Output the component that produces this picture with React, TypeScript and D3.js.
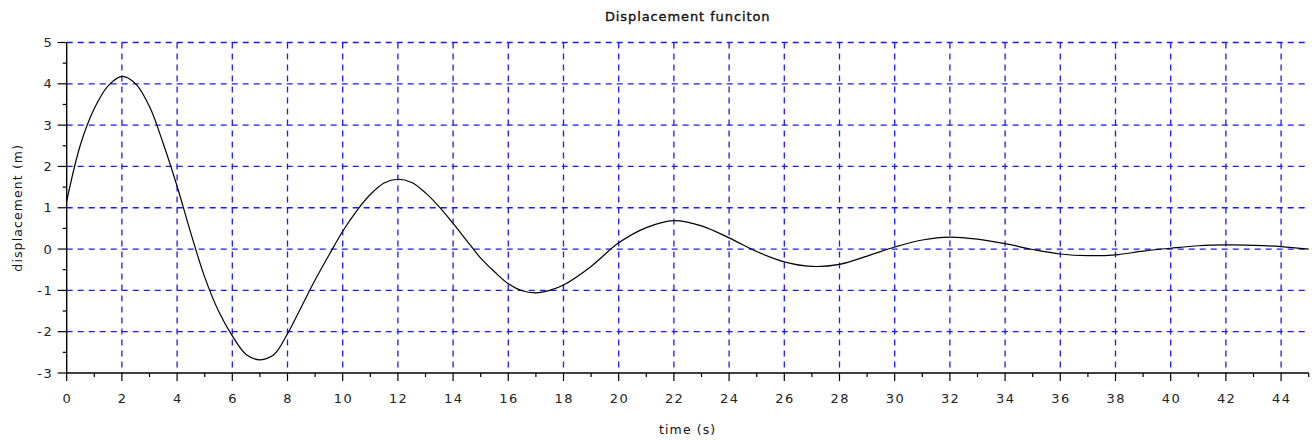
import React, { useEffect, useRef } from 'react'
import * as d3 from 'd3'

// time samples (s) and displacement (m)
const times = [0, 0.5, 1, 1.5, 2, 2.5, 3, 3.5, 4, 4.5, 5, 5.5, 6, 6.5, 7, 7.5, 8, 8.5, 9, 9.5,
  10, 10.5, 11, 11.5, 12, 12.5, 13, 13.5, 14, 14.5, 15, 15.5, 16, 16.5, 17, 17.5, 18,
  19, 20, 21, 22, 23, 24, 25, 26, 27, 28, 29, 30, 31, 32, 33, 34, 35, 36, 37, 38, 39,
  40, 41, 42, 43, 44, 45]
const displacement = [1.16, 2.53, 3.4, 3.95, 4.18, 4.0, 3.45, 2.55, 1.52, 0.38, -0.68, -1.5, -2.1, -2.55, -2.68, -2.56, -2.05, -1.4, -0.75, -0.15,
  0.43, 0.92, 1.32, 1.6, 1.69, 1.61, 1.36, 1.02, 0.62, 0.2, -0.22, -0.55, -0.84, -1.01, -1.06, -1.0, -0.87,
  -0.42, 0.15, 0.52, 0.69, 0.56, 0.27, -0.06, -0.31, -0.42, -0.37, -0.17, 0.05, 0.22, 0.29, 0.24, 0.13, -0.01, -0.12, -0.16, -0.14, -0.05,
  0.02, 0.08, 0.1, 0.09, 0.06, 0.0]

const xTicks = d3.range(0, 45, 2)
const yTicks = d3.range(-3, 6, 1)

const title = 'Displacement funciton'
const xLabel = 'time (s)'
const yLabel = 'displacement (m)'

export default function App() {
  const ref = useRef<SVGSVGElement>(null)

  useEffect(() => {
    const W = 1314, H = 441
    const margin = { top: 42.5, right: 5.3, bottom: 68, left: 66.7 }
    const w = W - margin.left - margin.right
    const h = H - margin.top - margin.bottom
    const font = '"DejaVu Sans", "Liberation Sans", sans-serif'
    const ls = 1.4 // tick label letter spacing

    const svg = d3.select(ref.current)
    svg.selectAll('*').remove()
    svg.attr('width', W).attr('height', H)

    const x = d3.scaleLinear().domain([0, 45]).range([0, w])
    const y = d3.scaleLinear().domain([-3, 5]).range([h, 0])

    const g = svg.append('g').attr('transform', `translate(${margin.left}, ${margin.top})`)

    // grid
    g.selectAll('.vgrid').data(xTicks.filter(d => d > 0)).join('line')
      .attr('x1', d => x(d)).attr('x2', d => x(d)).attr('y1', 0).attr('y2', h)
      .attr('stroke', '#1a1aff').attr('stroke-width', 1.3).attr('stroke-dasharray', '6,5')
    g.selectAll('.hgrid').data(yTicks.filter(d => d > -3)).join('line')
      .attr('x1', 0).attr('x2', w).attr('y1', d => y(d)).attr('y2', d => y(d))
      .attr('stroke', '#1a1aff').attr('stroke-width', 1.3).attr('stroke-dasharray', '6,5')

    // curve
    const pts = times.map((t, i) => [t, displacement[i]] as [number, number])
    const line = d3.line<[number, number]>()
      .x(d => x(d[0])).y(d => y(d[1]))
      .curve(d3.curveCatmullRom.alpha(0.5))
    g.append('path').datum(pts).attr('d', line)
      .attr('fill', 'none').attr('stroke', '#000').attr('stroke-width', 1.2)

    // x axis
    const xa = g.append('g').attr('transform', `translate(0, ${h})`)
    xa.append('line').attr('x1', 0).attr('x2', w).attr('stroke', '#000').attr('stroke-width', 1.4)
    xa.selectAll('.maj').data(xTicks).join('line')
      .attr('x1', d => x(d)).attr('x2', d => x(d)).attr('y1', 0).attr('y2', 8)
      .attr('stroke', '#000').attr('stroke-width', 1.2)
    xa.selectAll('.min').data(d3.range(1, 46, 2)).join('line')
      .attr('x1', d => x(d)).attr('x2', d => x(d)).attr('y1', 0).attr('y2', 4)
      .attr('stroke', '#000').attr('stroke-width', 1.2)
    xa.selectAll('text').data(xTicks).join('text')
      .attr('x', d => x(d) + ls / 2).attr('y', 30)
      .attr('text-anchor', 'middle').style('font-family', font).style('font-size', '13px')
      .style('letter-spacing', `${ls}px`)
      .attr('fill', '#222').text(d => d)

    // y axis
    const ya = g.append('g')
    ya.append('line').attr('y1', 0).attr('y2', h).attr('stroke', '#000').attr('stroke-width', 1.4)
    ya.selectAll('.maj').data(yTicks).join('line')
      .attr('y1', d => y(d)).attr('y2', d => y(d)).attr('x1', -9).attr('x2', 0)
      .attr('stroke', '#000').attr('stroke-width', 1.2)
    ya.selectAll('.min').data(d3.range(-2.5, 5, 1)).join('line')
      .attr('y1', d => y(d)).attr('y2', d => y(d)).attr('x1', -4).attr('x2', 0)
      .attr('stroke', '#000').attr('stroke-width', 1.2)
    ya.selectAll('text').data(yTicks).join('text')
      .attr('x', -15 + ls).attr('y', d => y(d) + 4.5)
      .attr('text-anchor', 'end').style('font-family', font).style('font-size', '13px')
      .style('letter-spacing', `${ls}px`)
      .attr('fill', '#222').text(d => (d < 0 ? '-' + Math.abs(d) : String(d)))

    // labels
    svg.append('text').attr('x', margin.left + w / 2).attr('y', 21)
      .attr('text-anchor', 'middle').style('font-family', font).style('font-size', '13px')
      .style('letter-spacing', '0.9px')
      .attr('fill', '#111').attr('stroke', '#111').attr('stroke-width', 0.35).text(title)
    svg.append('text').attr('x', margin.left + w / 2).attr('y', 434)
      .attr('text-anchor', 'middle').style('font-family', font).style('font-size', '12.5px')
      .style('letter-spacing', '1.1px')
      .attr('fill', '#111').text(xLabel)
    svg.append('text').attr('x', 22).attr('y', margin.top + h / 2)
      .attr('text-anchor', 'middle')
      .attr('transform', `rotate(-90, 22, ${margin.top + h / 2})`)
      .style('font-family', font).style('font-size', '12.5px')
      .style('letter-spacing', '1.1px')
      .attr('fill', '#111').text(yLabel)
  }, [])

  return (
    <svg ref={ref} style={{ position: 'absolute', left: 0, top: 0, background: '#fff' }} />
  )
}
